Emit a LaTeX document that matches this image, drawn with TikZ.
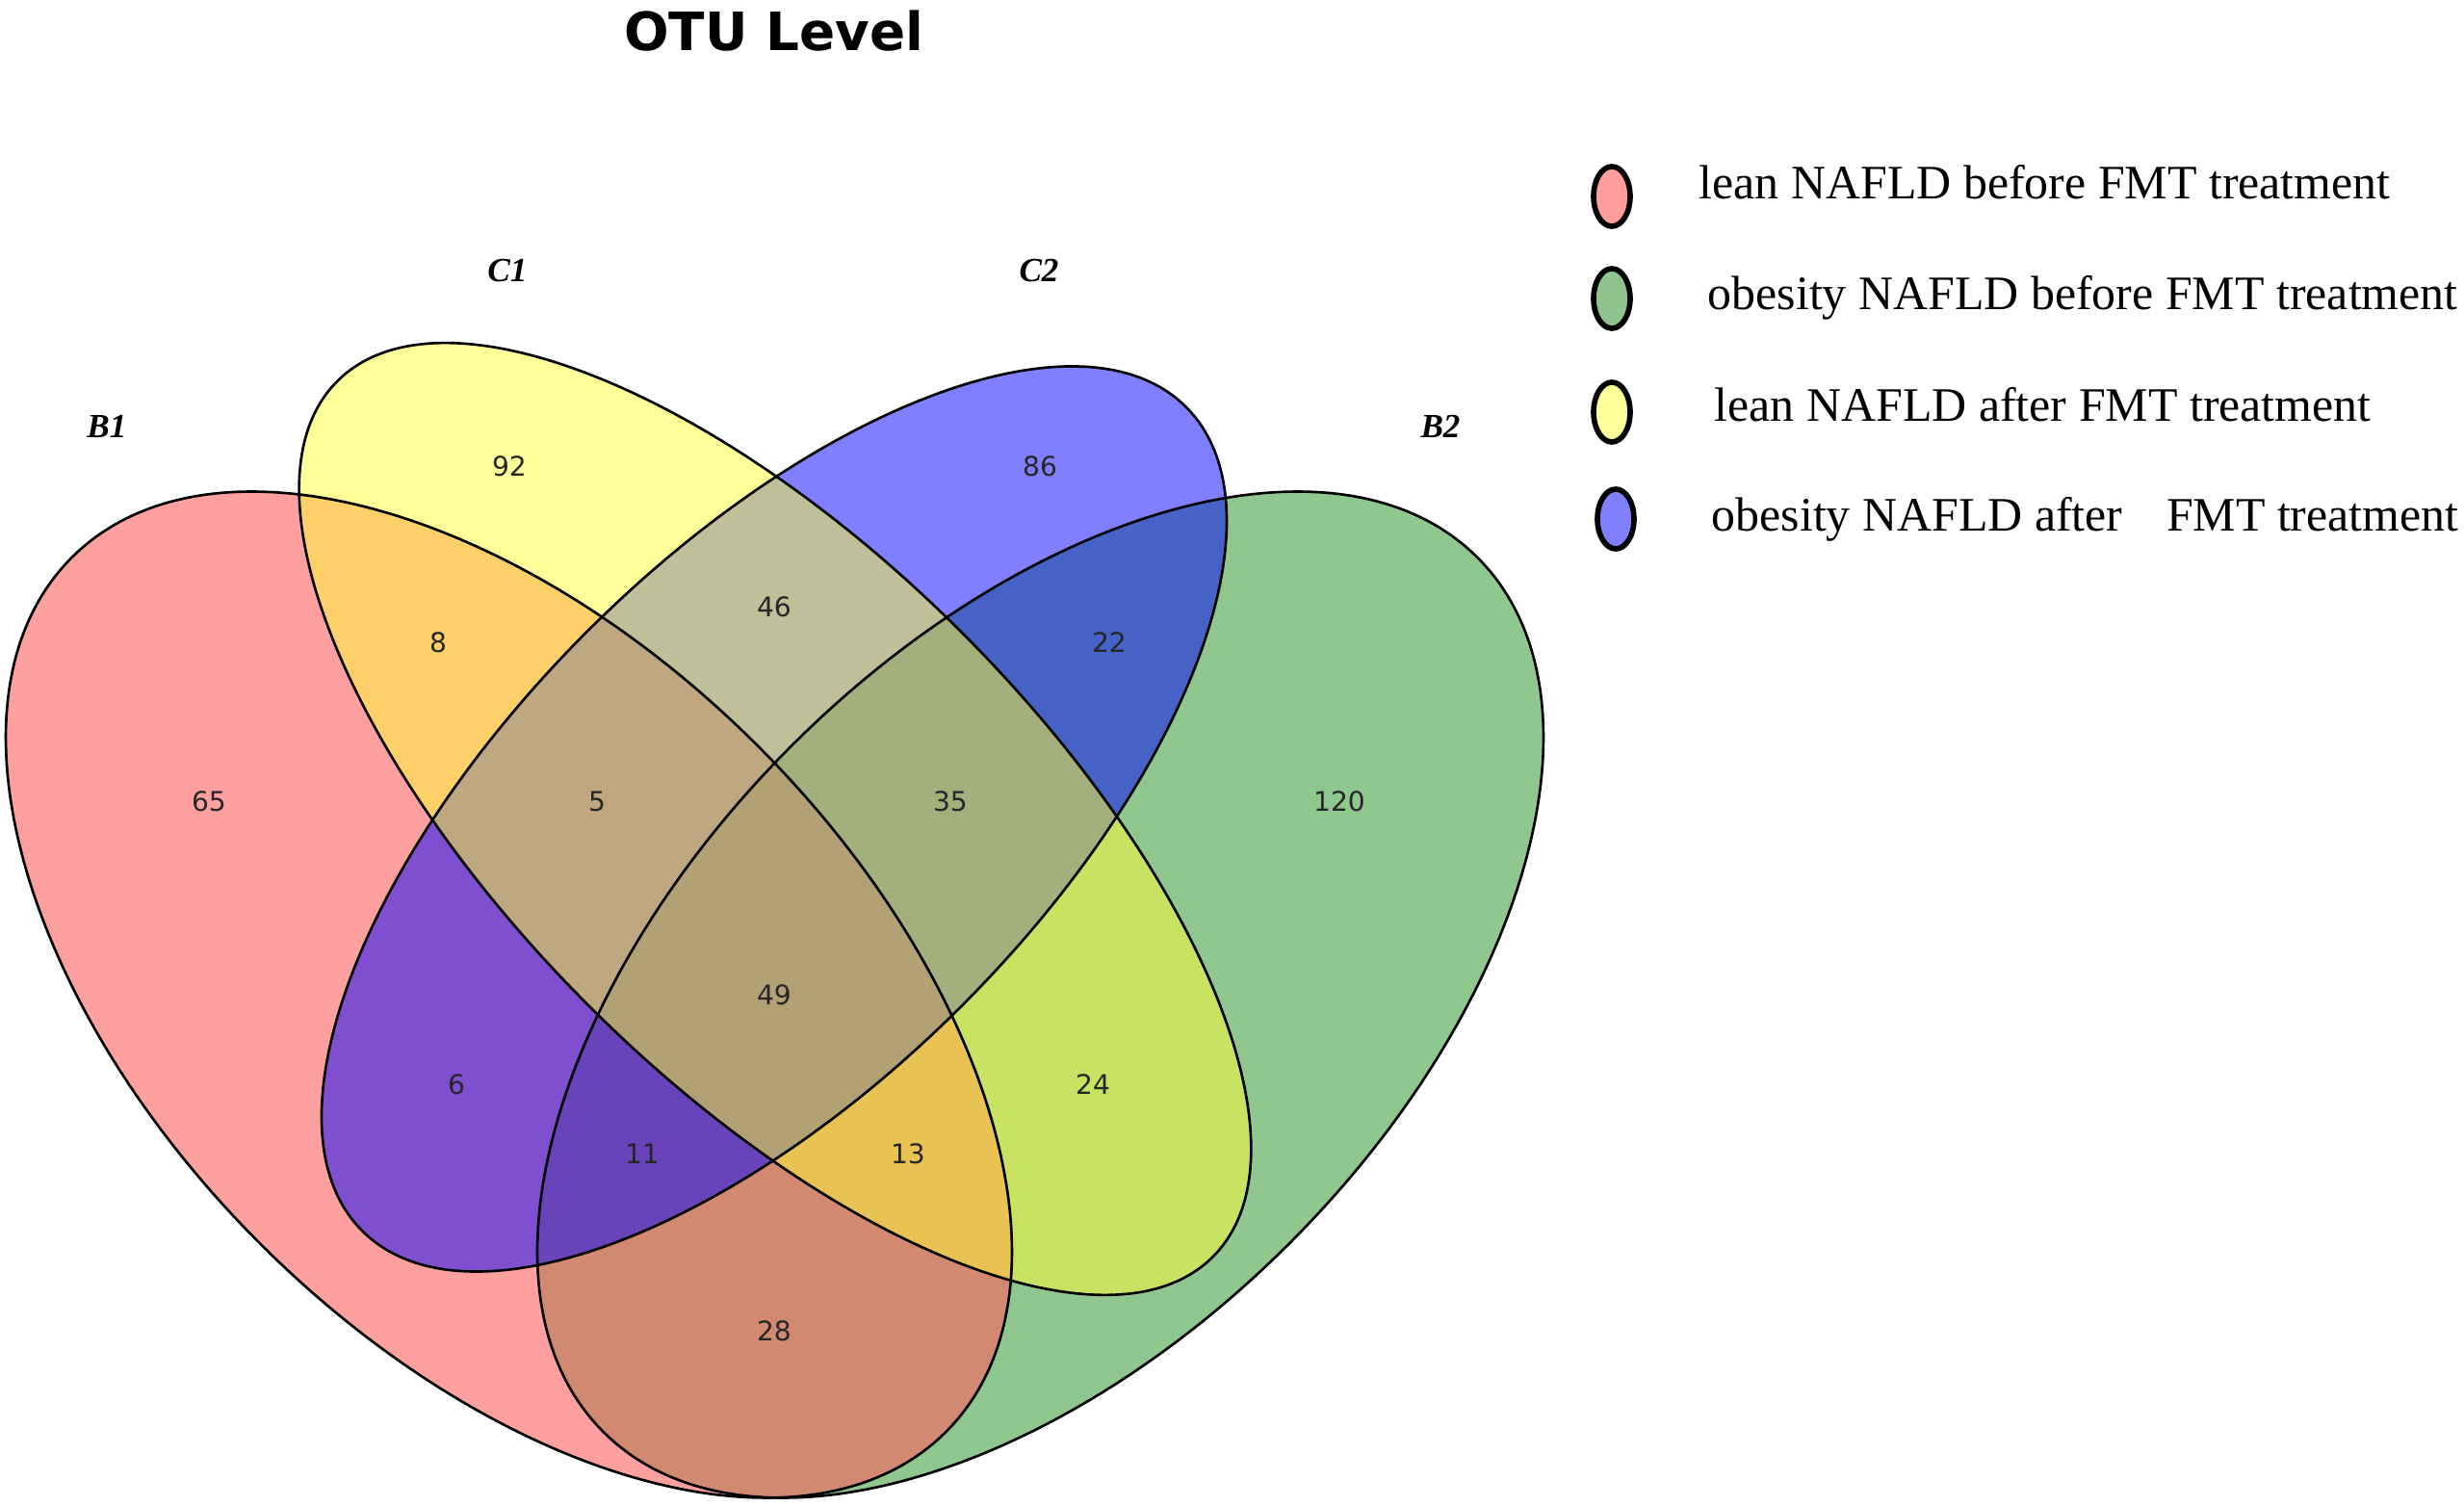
\documentclass[tikz,border=0pt]{standalone}
\usepackage{fontspec}
\setmainfont{Liberation Serif}
\newfontfamily\dejavu{DejaVu Sans}
\definecolor{vred}{RGB}{255,96,96}
\definecolor{vgreen}{RGB}{0,128,0}
\definecolor{vyellow}{RGB}{255,255,53}
\definecolor{vblue}{RGB}{0,0,255}
\definecolor{lred}{RGB}{255,156,156}
\definecolor{lgreen}{RGB}{143,196,143}
\definecolor{lyellow}{RGB}{255,255,153}
\definecolor{lblue}{RGB}{128,128,255}
\tikzset{
  num/.style={font=\dejavu\fontsize{8pt}{9pt}\selectfont, text=black!85, inner sep=0pt},
  setlab/.style={font=\fontsize{10pt}{11pt}\selectfont\bfseries\itshape, inner sep=0pt},
  legtext/.style={font=\fontsize{14.2pt}{16pt}\selectfont, anchor=base west, inner sep=0pt},
  legmark/.style={line width=1.6pt, draw=black},
  outline/.style={line width=0.75pt, draw=black}
}
\begin{document}
\begin{tikzpicture}
\useasboundingbox (0,0) rectangle (25.59,15.64);
% fills
\fill[vgreen, fill opacity=0.44, rotate around={45:(10.805,5.31)}] (10.805,5.31) ellipse [x radius=6.42cm, y radius=3.655cm];
\fill[vred, fill opacity=0.60, rotate around={-45:(5.285,5.31)}] (5.285,5.31) ellipse [x radius=6.42cm, y radius=3.655cm];
\fill[vblue, fill opacity=0.50, rotate around={45:(8.04,7.135)}] (8.04,7.135) ellipse [x radius=6.05cm, y radius=2.75cm];
\fill[vyellow, fill opacity=0.50, rotate around={-45:(8.05,7.135)}] (8.05,7.135) ellipse [x radius=6.43cm, y radius=2.74cm];
% outlines
\draw[outline, rotate around={45:(10.805,5.31)}] (10.805,5.31) ellipse [x radius=6.42cm, y radius=3.655cm];
\draw[outline, rotate around={-45:(5.285,5.31)}] (5.285,5.31) ellipse [x radius=6.42cm, y radius=3.655cm];
\draw[outline, rotate around={45:(8.04,7.135)}] (8.04,7.135) ellipse [x radius=6.05cm, y radius=2.75cm];
\draw[outline, rotate around={-45:(8.05,7.135)}] (8.05,7.135) ellipse [x radius=6.43cm, y radius=2.74cm];
% title
\node[font=\dejavu\bfseries\fontsize{15.6pt}{18pt}\selectfont, inner sep=0pt] (title) at (8.04,15.32) {OTU Level};
% set labels
\node[setlab] (lC1) at (5.27,12.83) {C1};
\node[setlab] (lC2) at (10.79,12.83) {C2};
\node[setlab] (lB1) at (1.11,11.21) {B1};
\node[setlab] (lB2) at (14.96,11.21) {B2};
% numbers
\node[num] (n92) at (5.29,10.80) {92};
\node[num] (n86) at (10.80,10.80) {86};
\node[num] (n8) at (4.55,8.97) {8};
\node[num] (n46) at (8.04,9.34) {46};
\node[num] (n22) at (11.52,8.97) {22};
\node[num] (n65) at (2.17,7.32) {65};
\node[num] (n5) at (6.20,7.32) {5};
\node[num] (n35) at (9.87,7.32) {35};
\node[num] (n120) at (13.91,7.32) {120};
\node[num] (n49) at (8.04,5.31) {49};
\node[num] (n6) at (4.74,4.38) {6};
\node[num] (n24) at (11.35,4.38) {24};
\node[num] (n11) at (6.67,3.66) {11};
\node[num] (n13) at (9.43,3.66) {13};
\node[num] (n28) at (8.04,1.82) {28};
% legend
\draw[legmark, fill=lred] (16.74,13.60) ellipse [x radius=0.19cm, y radius=0.31cm];
\draw[legmark, fill=lgreen] (16.74,12.54) ellipse [x radius=0.19cm, y radius=0.31cm];
\draw[legmark, fill=lyellow] (16.74,11.36) ellipse [x radius=0.19cm, y radius=0.31cm];
\draw[legmark, fill=lblue] (16.78,10.25) ellipse [x radius=0.19cm, y radius=0.31cm];
\node[legtext] (t1) at (17.64,13.57) {lean NAFLD before FMT treatment};
\node[legtext] (t2) at (17.73,12.42) {obesity NAFLD before FMT treatment};
\node[legtext] (t3) at (17.80,11.26) {lean NAFLD after FMT treatment};
\node[legtext] (t4) at (17.77,10.12) {obesity NAFLD after\hspace{0.66em} FMT treatment};
\end{tikzpicture}
\end{document}
